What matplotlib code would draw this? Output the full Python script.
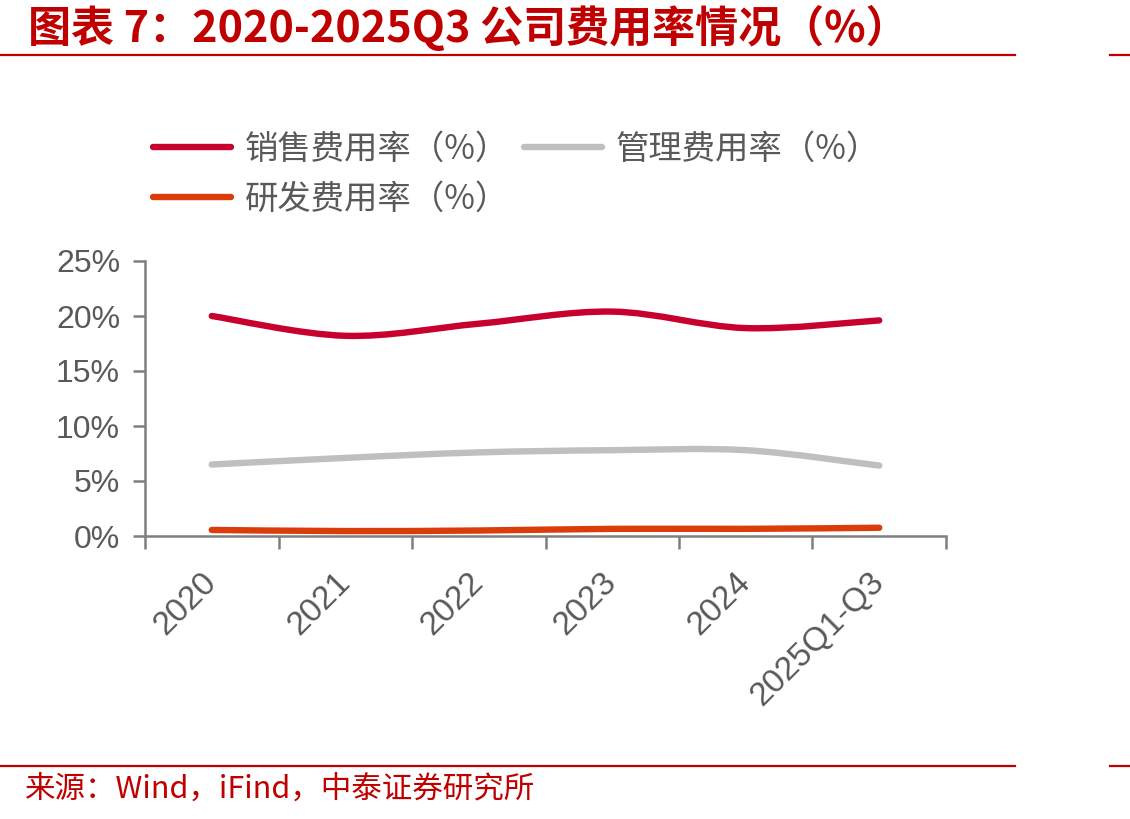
import numpy as np
import matplotlib
matplotlib.use("Agg")
import matplotlib.pyplot as plt
from matplotlib.path import Path
from matplotlib.patches import PathPatch
from matplotlib.lines import Line2D
from matplotlib.ticker import PercentFormatter

# --- данные (%) ---
years = ["2020", "2021", "2022", "2023", "2024", "2025Q1-Q3"]
sales_rate = [20.0, 18.2, 19.3, 20.4, 18.9, 19.6]
admin_rate = [6.5, 7.1, 7.6, 7.8, 7.8, 6.4]
rnd_rate = [0.55, 0.45, 0.5, 0.65, 0.65, 0.75]

CJK = ["Noto Sans CJK SC", "DejaVu Sans"]
LAT = ["Liberation Sans", "DejaVu Sans"]
RED = "#C00000"
GREY_TXT = "#595959"
AXIS = "#7F7F7F"


def smooth_path(xs, ys, t=1 / 6):
    # сглаживание как в Excel: кривые Безье через точки
    pts = np.column_stack([xs, ys]).astype(float)
    n = len(pts)
    verts, codes = [pts[0]], [Path.MOVETO]
    for i in range(n - 1):
        p0 = pts[i - 1] if i > 0 else pts[i]
        p1, p2 = pts[i], pts[i + 1]
        p3 = pts[i + 2] if i + 2 < n else pts[i + 1]
        verts += [p1 + (p2 - p0) * t, p2 - (p3 - p1) * t, p2]
        codes += [Path.CURVE4] * 3
    return Path(verts, codes)


fig = plt.figure(figsize=(11.3, 8.19), dpi=100)
ax = fig.add_axes([145 / 1130, 1 - 536 / 819, (946 - 145) / 1130, (536 - 261) / 819])

series = [
    ("销售费用率（%）", sales_rate, "#C8002E"),
    ("管理费用率（%）", admin_rate, "#BFBFBF"),
    ("研发费用率（%）", rnd_rate, "#DA3C0A"),
]
x = np.arange(len(years))
handles = {}
for name, vals, col in series:
    ax.add_patch(PathPatch(smooth_path(x, vals), facecolor="none", edgecolor=col,
                           lw=4.6, capstyle="round", joinstyle="round", zorder=3))
    handles[name] = Line2D([], [], color=col, lw=4.6, solid_capstyle="round")

ax.set_xlim(-0.5, len(years) - 0.5)
ax.set_ylim(0, 25)
ax.set_yticks(np.arange(0, 26, 5))
ax.yaxis.set_major_formatter(PercentFormatter(decimals=0))
ax.set_xticks(x)
ax.set_xticks(np.arange(-0.5, len(years), 1), minor=True)
ax.set_xticklabels(years, rotation=45, ha="right", va="center", rotation_mode="anchor")
ax.tick_params(axis="x", which="major", length=0, pad=30)
ax.tick_params(axis="x", which="minor", length=9, width=1.8, color=AXIS)
ax.tick_params(axis="y", length=9, width=1.8, color=AXIS, pad=9)
for lab in ax.get_yticklabels():
    lab.set_fontfamily(LAT)
    lab.set_fontsize(23)
    lab.set_color(GREY_TXT)
for lab in ax.get_xticklabels():
    lab.set_fontfamily(LAT)
    lab.set_fontsize(24)
    lab.set_color(GREY_TXT)

for s in ["top", "right"]:
    ax.spines[s].set_visible(False)
for s in ["left", "bottom"]:
    ax.spines[s].set_color(AXIS)
    ax.spines[s].set_linewidth(1.8)

order = ["销售费用率（%）", "研发费用率（%）", "管理费用率（%）"]
leg = fig.legend([handles[k] for k in order], order, loc="upper left",
                 bbox_to_anchor=(153 / 1130, 1 - 132 / 819), ncol=2, frameon=False,
                 borderpad=0, borderaxespad=0, handlelength=2.35, handletextpad=0.4,
                 columnspacing=0.45, labelspacing=0.43,
                 prop={"family": CJK, "size": 24})
for t in leg.get_texts():
    t.set_color(GREY_TXT)

# заголовок и источник
fig.text(28 / 1130, 1 - 28 / 819, "图表 7：2020-2025Q3 公司费用率情况（%）",
         fontfamily=CJK, fontsize=31, fontweight="bold", color=RED, va="center", ha="left")
fig.text(25 / 1130, 1 - 789 / 819, "来源：Wind，iFind，中泰证券研究所",
         fontfamily=CJK, fontsize=22, color=RED, va="center", ha="left")

for yy in [55, 766]:
    fig.add_artist(Line2D([0, 1015 / 1130], [1 - yy / 819] * 2, color=RED, lw=1.6,
                          transform=fig.transFigure))
    fig.add_artist(Line2D([1110 / 1130, 1], [1 - yy / 819] * 2, color=RED, lw=1.6,
                          transform=fig.transFigure))

fig.savefig("out.png", dpi=100)
